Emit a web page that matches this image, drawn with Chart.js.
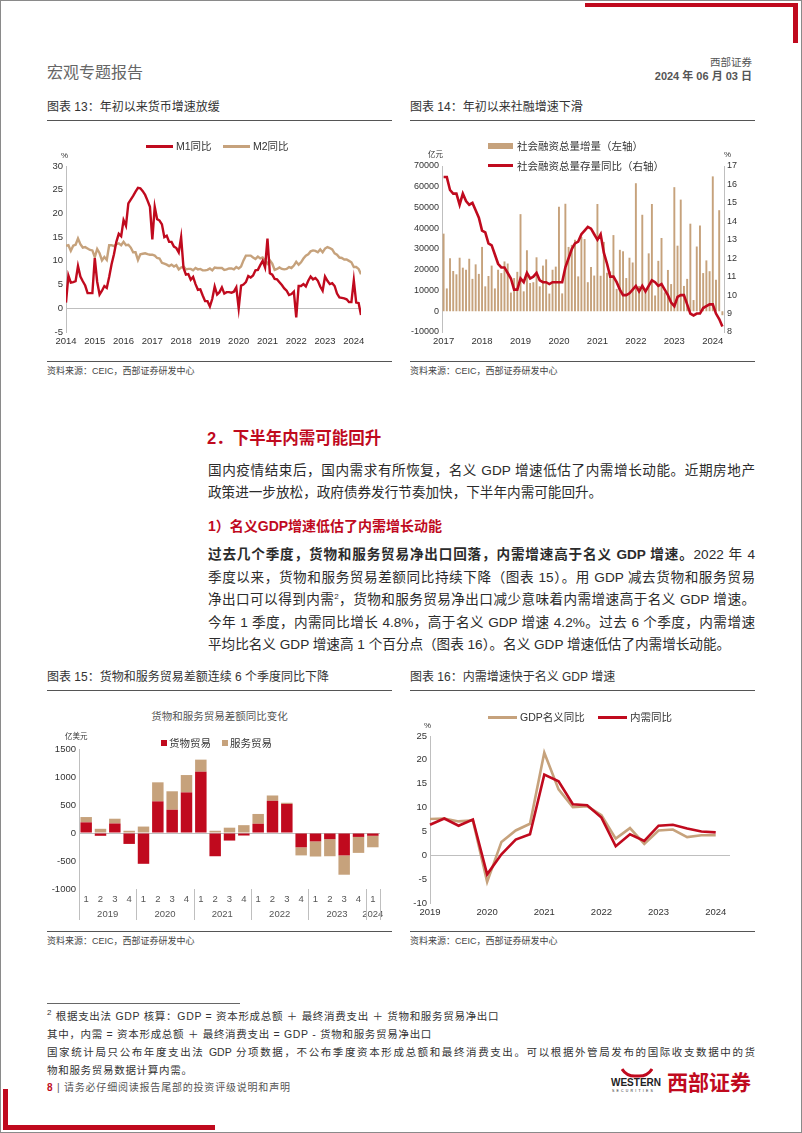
<!DOCTYPE html>
<html lang="zh-CN">
<head>
<meta charset="utf-8">
<title>宏观专题报告 - 第8页</title>
<script src="https://cdn.jsdelivr.net/npm/chart.js@4.4.1/dist/chart.umd.min.js"></script>
<style>
  html, body { margin: 0; padding: 0; background: #fff; }
  body { width: 802px; height: 1133px; position: relative; overflow: hidden;
    font-family: "Liberation Sans", "Noto Sans CJK SC", sans-serif; color: #333; }
  .marco { position: absolute; left: 0; top: 0; width: 802px; height: 1133px; box-sizing: border-box; border: 1px solid #8a8a8a; }
  .t { position: absolute; white-space: nowrap; line-height: 1; z-index: 2; }
  .b { position: absolute; z-index: 2; }
  .lienzo { position: absolute; z-index: 1; }
  .just { text-align: justify; text-align-last: justify; }
  .titulo { font-size: 12px; color: #333; }
  .fuente { font-size: 9px; color: #444; }
  .parrafo { font-size: 13.6px; color: #2b2b2b; left: 208px; width: 547px; }
  .nota { font-size: 10.5px; color: #333; letter-spacing: 0.7px; left: 47px; }
  .ley { font-size: 10.5px; color: #333; }
  sup { font-size: 8px; line-height: 0; vertical-align: 5px; }
</style>
</head>
<body>
<div class="marco"></div>

<!-- marcos rojos de la página -->
<div class="b" style="left:585px;top:3px;width:213px;height:4px;background:#C00A1E;"></div>
<div class="b" style="left:793px;top:3px;width:5px;height:40px;background:#C00A1E;"></div>
<div class="b" style="left:3px;top:1089px;width:5px;height:41px;background:#C00A1E;"></div>
<div class="b" style="left:3px;top:1125px;width:212px;height:5px;background:#C00A1E;"></div>

<!-- cabecera -->
<div class="t" style="left:47px;top:65px;font-size:16px;color:#666;">宏观专题报告</div>
<div class="t" style="right:50px;top:57px;font-size:10.5px;color:#555;">西部证券</div>
<div class="t" style="right:50px;top:71px;font-size:11px;color:#555;font-weight:bold;">2024 年 06 月 03 日</div>

<!-- títulos de los gráficos superiores -->
<div class="t titulo" style="left:47px;top:101px;">图表 13：年初以来货币增速放缓</div>
<div class="t titulo" style="left:410px;top:101px;">图表 14：年初以来社融增速下滑</div>
<div class="b" style="left:47px;top:120px;width:345px;height:1px;background:#555;"></div>
<div class="b" style="left:410px;top:120px;width:345px;height:1px;background:#555;"></div>

<!-- gráfico 13 -->
<div class="lienzo" style="left:47px;top:128px;width:345px;height:224px;"><canvas id="g13"></canvas></div>
<div class="b" style="left:146px;top:145px;width:27px;height:3px;background:#C00A1E;"></div>
<div class="t ley" style="left:176px;top:141px;">M1同比</div>
<div class="b" style="left:223px;top:145px;width:27px;height:3px;background:#C6A27C;"></div>
<div class="t ley" style="left:253px;top:141px;">M2同比</div>
<div class="t" style="left:61px;top:152px;font-size:8px;">%</div>

<!-- gráfico 14 -->
<div class="lienzo" style="left:410px;top:128px;width:345px;height:224px;"><canvas id="g14"></canvas></div>
<div class="b" style="left:488px;top:143px;width:25px;height:6px;background:#C6A27C;"></div>
<div class="t ley" style="left:517px;top:141px;">社会融资总量增量（左轴）</div>
<div class="b" style="left:488px;top:164px;width:25px;height:3px;background:#C00A1E;"></div>
<div class="t ley" style="left:517px;top:161px;">社会融资总量存量同比（右轴）</div>
<div class="t" style="left:428px;top:151px;font-size:7.5px;">亿元</div>
<div class="t" style="left:724px;top:151px;font-size:8px;">%</div>

<div class="b" style="left:47px;top:361px;width:345px;height:1px;background:#555;"></div>
<div class="b" style="left:410px;top:361px;width:345px;height:1px;background:#555;"></div>
<div class="t fuente" style="left:47px;top:367px;">资料来源：CEIC，西部证券研发中心</div>
<div class="t fuente" style="left:410px;top:367px;">资料来源：CEIC，西部证券研发中心</div>

<!-- texto -->
<div class="t" style="left:207px;top:430px;font-size:16.5px;font-weight:bold;color:#C00A1E;">2．下半年内需可能回升</div>
<div class="t parrafo just" style="top:464px;">国内疫情结束后，国内需求有所恢复，名义 GDP 增速低估了内需增长动能。近期房地产</div>
<div class="t parrafo" style="top:486px;">政策进一步放松，政府债券发行节奏加快，下半年内需可能回升。</div>
<div class="t" style="left:208px;top:519px;font-size:14px;font-weight:bold;color:#C00A1E;">1）名义GDP增速低估了内需增长动能</div>
<div class="t parrafo just" style="top:548px;"><b>过去几个季度，货物和服务贸易净出口回落，内需增速高于名义 GDP 增速。</b>2022 年 4</div>
<div class="t parrafo just" style="top:571px;">季度以来，货物和服务贸易差额同比持续下降（图表 15）。用 GDP 减去货物和服务贸易</div>
<div class="t parrafo just" style="top:593px;">净出口可以得到内需<sup>2</sup>，货物和服务贸易净出口减少意味着内需增速高于名义 GDP 增速。</div>
<div class="t parrafo just" style="top:616px;">今年 1 季度，内需同比增长 4.8%，高于名义 GDP 增速 4.2%。过去 6 个季度，内需增速</div>
<div class="t parrafo" style="top:638px;">平均比名义 GDP 增速高 1 个百分点（图表 16）。名义 GDP 增速低估了内需增长动能。</div>

<!-- títulos de los gráficos inferiores -->
<div class="t titulo" style="left:47px;top:671px;">图表 15：货物和服务贸易差额连续 6 个季度同比下降</div>
<div class="t titulo" style="left:410px;top:671px;">图表 16：内需增速快于名义 GDP 增速</div>
<div class="b" style="left:47px;top:690px;width:345px;height:1px;background:#555;"></div>
<div class="b" style="left:410px;top:690px;width:345px;height:1px;background:#555;"></div>

<!-- gráfico 15 -->
<div class="t" style="left:47px;width:345px;top:711px;text-align:center;font-size:10.5px;color:#555;">货物和服务贸易差额同比变化</div>
<div class="lienzo" style="left:47px;top:740px;width:345px;height:188px;"><canvas id="g15"></canvas></div>
<div class="t" style="left:65px;top:733px;font-size:7.5px;">亿美元</div>
<div class="b" style="left:161px;top:740px;width:6px;height:6px;background:#C00A1E;"></div>
<div class="t ley" style="left:169px;top:738px;">货物贸易</div>
<div class="b" style="left:222px;top:740px;width:6px;height:6px;background:#C6A27C;"></div>
<div class="t ley" style="left:230px;top:738px;">服务贸易</div>

<!-- gráfico 16 -->
<div class="lienzo" style="left:410px;top:722px;width:345px;height:200px;"><canvas id="g16"></canvas></div>
<div class="b" style="left:488px;top:716px;width:29px;height:3px;background:#C6A27C;"></div>
<div class="t ley" style="left:520px;top:712px;">GDP名义同比</div>
<div class="b" style="left:598px;top:716px;width:29px;height:3px;background:#C00A1E;"></div>
<div class="t ley" style="left:630px;top:712px;">内需同比</div>
<div class="t" style="left:424px;top:722px;font-size:8px;">%</div>

<div class="b" style="left:47px;top:931px;width:345px;height:1px;background:#555;"></div>
<div class="b" style="left:410px;top:931px;width:345px;height:1px;background:#555;"></div>
<div class="t fuente" style="left:47px;top:937px;">资料来源：CEIC，西部证券研发中心</div>
<div class="t fuente" style="left:410px;top:937px;">资料来源：CEIC，西部证券研发中心</div>

<!-- nota al pie -->
<div class="b" style="left:47px;top:1003px;width:193px;height:1px;background:#666;"></div>
<div class="t nota" style="top:1011px;"><sup>2</sup> 根据支出法 GDP 核算：GDP = 资本形成总额 ＋ 最终消费支出 ＋ 货物和服务贸易净出口</div>
<div class="t nota" style="top:1029px;">其中，内需 = 资本形成总额 ＋ 最终消费支出 = GDP - 货物和服务贸易净出口</div>
<div class="t nota just" style="top:1047px;width:708px;letter-spacing:0;">国家统计局只公布年度支出法 GDP 分项数据，不公布季度资本形成总额和最终消费支出。可以根据外管局发布的国际收支数据中的货</div>
<div class="t nota" style="top:1065px;">物和服务贸易数据计算内需。</div>
<div class="t" style="left:47px;top:1083px;font-size:10px;color:#555;letter-spacing:0.8px;"><b style="color:#C00A1E;">8</b> | 请务必仔细阅读报告尾部的投资评级说明和声明</div>

<!-- logotipo -->
<svg class="b" style="left:621px;top:1068px;" width="32" height="12" viewBox="0 0 32 12">
  <path d="M1 1 Q6 9 16 8 Q26 9 31 1" stroke="#C00A1E" stroke-width="3" fill="none"/>
</svg>
<div class="t" style="left:611px;top:1078px;font-size:10px;font-weight:bold;color:#222;">WESTERN</div>
<div class="t" style="left:612px;top:1090px;font-size:3.5px;letter-spacing:2.2px;color:#222;">SECURITIES</div>
<div class="t" style="left:667px;top:1072px;font-size:21px;font-weight:bold;color:#C00A1E;">西部证券</div>

<script>
const ROJO = '#C00A1E';
const TAN = '#C6A27C';
const EJE = '#bfbfbf';

// 图表13: M1、M2 同比（%），2014年1月至2024年4月
const anios13 = [2014, 2015, 2016, 2017, 2018, 2019, 2020, 2021, 2022, 2023, 2024];
const m1 = [
  1.2, 6.9, 5.4, 5.5, 5.7, 8.9, 6.7, 5.7, 4.8, 3.2, 3.2, 3.2,
  10.6, 5.6, 2.9, 3.7, 4.7, 4.3, 6.6, 9.3, 11.4, 14.0, 15.7, 15.2,
  18.6, 17.4, 22.1, 22.9, 23.7, 24.6, 25.4, 25.3, 24.7, 23.9, 22.7, 21.4,
  14.5, 21.4, 18.8, 18.5, 17.7, 15.0, 15.3, 14.0, 14.0, 13.0, 12.7, 11.8,
  15.0, 8.5, 7.1, 7.2, 6.0, 6.6, 5.1, 3.9, 4.0, 2.7, 1.5, 1.5,
  0.4, 2.0, 4.6, 2.9, 3.4, 4.4, 3.1, 3.4, 3.4, 3.3, 3.5, 4.4,
  0.0, 4.8, 5.0, 5.5, 6.8, 6.5, 6.9, 8.0, 8.1, 9.1, 10.0, 8.6,
  14.7, 7.4, 7.1, 6.2, 6.1, 5.5, 4.9, 4.2, 3.7, 2.8, 3.0, 3.5,
  -1.9, 4.7, 4.7, 5.1, 4.6, 5.8, 6.7, 6.1, 6.4, 5.8, 4.6, 3.7,
  6.7, 5.8, 5.1, 5.3, 4.7, 3.1, 2.3, 2.2, 2.1, 1.9, 1.3, 1.3,
  5.9, 1.2, 1.1, -1.4
];
const m2 = [
  13.2, 13.3, 12.1, 13.2, 13.4, 14.7, 13.5, 12.8, 12.9, 12.6, 12.3, 12.2,
  10.8, 12.5, 11.6, 10.1, 10.8, 10.2, 13.3, 13.3, 13.1, 13.5, 13.7, 13.3,
  14.0, 13.3, 13.4, 12.8, 11.8, 11.8, 10.2, 11.4, 11.5, 11.6, 11.4, 11.3,
  11.3, 11.1, 10.6, 10.5, 9.6, 9.4, 9.2, 8.9, 9.2, 8.8, 9.1, 8.2,
  8.6, 8.8, 8.2, 8.3, 8.3, 8.0, 8.5, 8.2, 8.3, 8.0, 8.0, 8.1,
  8.4, 8.0, 8.6, 8.5, 8.5, 8.5, 8.1, 8.2, 8.4, 8.4, 8.2, 8.7,
  8.4, 8.8, 10.1, 11.1, 11.1, 11.1, 10.7, 10.4, 10.9, 10.5, 10.7, 10.1,
  9.4, 10.1, 9.4, 8.1, 8.3, 8.6, 8.3, 8.2, 8.3, 8.7, 8.5, 9.0,
  9.8, 9.2, 9.7, 10.5, 11.1, 11.4, 12.0, 12.2, 12.1, 11.8, 12.4, 11.8,
  12.6, 12.9, 12.7, 12.4, 11.6, 11.3, 10.7, 10.6, 10.3, 10.3, 10.0, 9.7,
  8.7, 8.7, 8.3, 7.2
];

// 图表14: 社融增量（亿元，左轴）与存量同比（%，右轴），2017年1月至2024年4月
const sfIncremento = [
  37400, 11000, 25600, 19400, 17800, 25800, 21000, 20000, 25300, 15600, 22600, 18000,
  31000, 12000, 17000, 22000, 11000, 20000, 18400, 24000, 23000, 9000, 16000, 19000,
  46800, 9600, 29400, 13600, 14000, 26000, 12000, 22000, 25000, 8500, 20000, 21500,
  50400, 8600, 51800, 31000, 32000, 34400, 16800, 35800, 34800, 14000, 21300, 17200,
  51700, 17100, 33400, 18500, 19200, 36700, 10800, 29600, 28900, 16000, 25800, 23500,
  61700, 12200, 46500, 9100, 27900, 51700, 7600, 24300, 35300, 9100, 19900, 13100,
  59800, 31600, 53800, 12200, 15600, 42200, 5400, 31200, 41300, 18400, 24500, 19300,
  65000, 15200, 48700, -1900
];
const sfCrecimiento = [
  16.4, 16.4, 15.7, 15.5, 15.5, 14.9, 15.5, 15.1, 14.9, 15.0, 14.6, 14.2,
  13.5, 13.4, 12.8, 12.7, 12.2, 11.7, 11.5, 11.5, 11.2, 10.9, 10.3, 10.3,
  10.9, 10.7, 11.2, 10.9, 11.0, 11.2, 10.8, 10.7, 10.7, 10.6, 10.7, 10.7,
  10.7, 10.7, 11.5, 12.0, 12.5, 12.8, 12.9, 13.3, 13.5, 13.7, 13.6, 13.3,
  13.0, 13.3, 12.3, 11.7, 11.0, 11.0, 10.7, 10.3, 10.0, 10.0, 10.1, 10.3,
  10.5, 10.2, 10.5, 10.2, 10.5, 10.8, 10.7, 10.5, 10.6, 10.3, 10.0, 9.6,
  9.4, 9.9, 10.0, 10.0, 9.5, 9.0, 8.9, 9.0, 9.0, 9.3, 9.4, 9.5,
  9.5, 9.0, 8.7, 8.3
];

// 图表15: 货物、服务贸易差额同比变化（亿美元），2019Q1至2024Q1
const trimestres15 = ['1','2','3','4','1','2','3','4','1','2','3','4','1','2','3','4','1','2','3','4','1'];
const anios15 = ['2019', '2020', '2021', '2022', '2023', '2024'];
const centros15 = [1.5, 5.5, 9.5, 13.5, 17.5, 20];
const limites15 = [-0.5, 3.5, 7.5, 11.5, 15.5, 19.5, 20.5];
const bienes = [190, -50, 170, -195, -550, 565, 415, 725, 1095, -415, -135, -45, 165, 575, 520, -255, -150, -110, -400, -70, -50];
const servicios = [95, 75, 85, 40, 115, 340, 330, 310, 215, 40, 95, 140, 175, 95, 20, -145, -270, -305, -345, -285, -205];

// 图表16: GDP名义同比与内需同比（%），2019Q1至2024Q1
const gdpNominal = [7.6, 7.7, 7.1, 7.3, -5.6, 2.8, 5.2, 6.6, 21.5, 13.8, 10.1, 10.3, 8.4, 3.5, 5.7, 2.4, 5.2, 5.4, 3.8, 4.2, 4.2];
const neixu = [6.4, 7.7, 6.2, 7.5, -4.0, 0.2, 3.3, 4.4, 16.9, 15.5, 10.7, 10.5, 7.9, 1.9, 4.4, 3.0, 6.2, 6.4, 5.6, 5.0, 4.8];

// etiquetas de meses y trimestres
const meses = [];
for (let a = 2017; a <= 2024; a++) {
  for (let m = 1; m <= 12; m++) {
    if (meses.length < sfIncremento.length) meses.push(a + '-' + String(m).padStart(2, '0'));
  }
}
const trimestres16 = [];
for (let a = 2019; a <= 2024; a++) {
  for (let q = 1; q <= 4; q++) {
    if (trimestres16.length < gdpNominal.length + 1) trimestres16.push(a + 'Q' + q);
  }
}

Chart.defaults.font.family = '"Liberation Sans", "Noto Sans CJK SC", sans-serif';
Chart.defaults.font.size = 9.5;
Chart.defaults.color = '#333';
Chart.defaults.animation = false;
Chart.defaults.responsive = true;
Chart.defaults.maintainAspectRatio = false;
Chart.defaults.plugins.legend.display = false;
Chart.defaults.plugins.tooltip.enabled = false;

const soloCero = c => (c.tick && c.tick.value === 0 ? EJE : 'rgba(0,0,0,0)');
const sinComa = v => String(v);

// separadores de años debajo del eje de categorías
const separadores = {
  id: 'separadores',
  afterDraw(chart, args, opts) {
    const { ctx, chartArea } = chart;
    const x = chart.scales.x;
    ctx.save();
    ctx.strokeStyle = EJE;
    ctx.lineWidth = 1;
    opts.limites.forEach(b => {
      const px = Math.round(x.getPixelForValue(b)) + 0.5;
      ctx.beginPath();
      ctx.moveTo(px, chartArea.bottom);
      ctx.lineTo(px, chartArea.bottom + opts.largo);
      ctx.stroke();
    });
    ctx.restore();
  }
};

// 图表13
new Chart(document.getElementById('g13'), {
  type: 'line',
  data: {
    datasets: [
      { label: 'M1同比', data: m1.map((v, i) => ({ x: 2014 + i / 12, y: v })),
        borderColor: ROJO, borderWidth: 2.4, pointRadius: 0, tension: 0 },
      { label: 'M2同比', data: m2.map((v, i) => ({ x: 2014 + i / 12, y: v })),
        borderColor: TAN, borderWidth: 2.4, pointRadius: 0, tension: 0 }
    ]
  },
  options: {
    layout: { padding: { left: 0, right: 31, top: 38, bottom: 0 } },
    scales: {
      x: {
        type: 'linear', min: 2014, max: 2024.25,
        afterBuildTicks: ax => { ax.ticks = anios13.map(v => ({ value: v })); },
        afterFit: ax => { ax.height = 20; },
        ticks: { callback: sinComa, autoSkip: false, maxRotation: 0, padding: 4 },
        grid: { display: false, drawTicks: false },
        border: { display: false }
      },
      y: {
        min: -5, max: 30,
        afterFit: ax => { ax.width = 19; },
        ticks: { stepSize: 5, padding: 3 },
        grid: { color: soloCero, drawTicks: false },
        border: { color: EJE }
      }
    }
  }
});

// 图表14
new Chart(document.getElementById('g14'), {
  data: {
    labels: meses,
    datasets: [
      { type: 'line', label: '社会融资总量存量同比（右轴）', data: sfCrecimiento, yAxisID: 'y1', order: 0,
        borderColor: ROJO, borderWidth: 2.6, pointRadius: 0, tension: 0 },
      { type: 'bar', label: '社会融资总量增量（左轴）', data: sfIncremento, yAxisID: 'y', order: 1,
        backgroundColor: TAN, barPercentage: 0.6, categoryPercentage: 1 }
    ]
  },
  options: {
    layout: { padding: { left: 0, right: 0, top: 38, bottom: 0 } },
    scales: {
      x: {
        type: 'category', offset: true,
        afterFit: ax => { ax.height = 20; },
        ticks: { autoSkip: false, maxRotation: 0, padding: 4,
          callback: (v, i) => (meses[i].endsWith('-01') ? meses[i].slice(0, 4) : '') },
        grid: { display: false, drawTicks: false },
        border: { display: false }
      },
      y: {
        position: 'left', min: -10000, max: 70000,
        afterFit: ax => { ax.width = 32; },
        ticks: { stepSize: 10000, padding: 3, font: { size: 9 }, callback: sinComa },
        grid: { display: false, drawTicks: false },
        border: { color: EJE }
      },
      y1: {
        position: 'right', min: 8, max: 17,
        afterFit: ax => { ax.width = 31; },
        ticks: { stepSize: 1, padding: 3, font: { size: 9 } },
        grid: { display: false, drawTicks: false },
        border: { color: EJE }
      }
    }
  }
});

// 图表15
new Chart(document.getElementById('g15'), {
  type: 'bar',
  data: {
    labels: trimestres15,
    datasets: [
      { label: '货物贸易', data: bienes, backgroundColor: ROJO, categoryPercentage: 0.8, barPercentage: 1 },
      { label: '服务贸易', data: servicios, backgroundColor: TAN, categoryPercentage: 0.8, barPercentage: 1 }
    ]
  },
  plugins: [separadores],
  options: {
    layout: { padding: { left: 0, right: 12, top: 9, bottom: 8 } },
    plugins: { separadores: { limites: limites15, largo: 31 } },
    scales: {
      x: {
        stacked: true,
        afterFit: ax => { ax.height = 16; },
        ticks: { autoSkip: false, maxRotation: 0, padding: 5, color: '#555' },
        grid: { display: false, drawTicks: false },
        border: { display: false }
      },
      x2: {
        type: 'linear', position: 'bottom', min: -0.5, max: 20.5, offset: false,
        afterBuildTicks: ax => { ax.ticks = centros15.map(v => ({ value: v })); },
        afterFit: ax => { ax.height = 15; },
        ticks: { autoSkip: false, maxRotation: 0, padding: 4, color: '#555',
          callback: (v, i) => anios15[i] },
        grid: { display: false, drawTicks: false, offset: false },
        border: { display: false }
      },
      y: {
        stacked: true, min: -1000, max: 1500,
        afterFit: ax => { ax.width = 32; },
        ticks: { stepSize: 500, padding: 3, callback: sinComa },
        grid: { color: soloCero, drawTicks: false },
        border: { color: EJE }
      }
    }
  }
});

// 图表16
new Chart(document.getElementById('g16'), {
  type: 'line',
  data: {
    labels: trimestres16,
    datasets: [
      { label: 'GDP名义同比', data: gdpNominal, order: 2,
        borderColor: TAN, borderWidth: 2.6, pointRadius: 0, tension: 0 },
      { label: '内需同比', data: neixu, order: 1,
        borderColor: ROJO, borderWidth: 2.6, pointRadius: 0, tension: 0 }
    ]
  },
  options: {
    layout: { padding: { left: 0, right: 25, top: 14, bottom: 1 } },
    scales: {
      x: {
        type: 'category', offset: false,
        afterFit: ax => { ax.height = 18; },
        ticks: { autoSkip: false, maxRotation: 0, padding: 4,
          callback: (v, i) => (i % 4 === 0 && i < gdpNominal.length ? trimestres16[i].slice(0, 4) : '') },
        grid: { display: false, drawTicks: false },
        border: { display: false }
      },
      y: {
        min: -10, max: 25,
        afterFit: ax => { ax.width = 20; },
        ticks: { stepSize: 5, padding: 3 },
        grid: { color: soloCero, drawTicks: false },
        border: { color: EJE }
      }
    }
  }
});
</script>
</body>
</html>
